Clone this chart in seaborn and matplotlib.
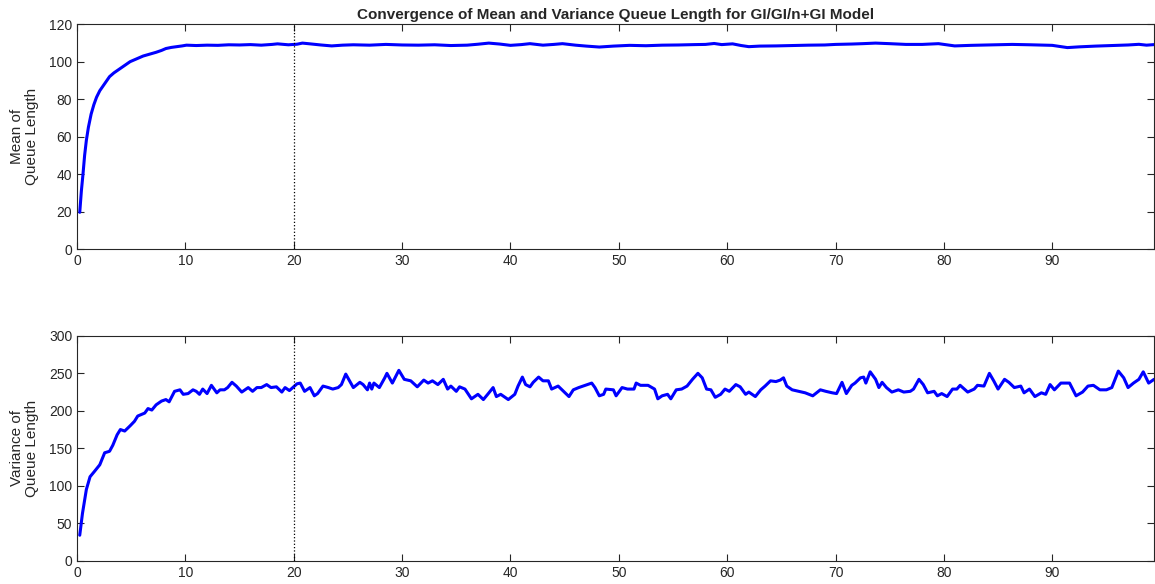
import matplotlib
matplotlib.use("Agg")
import matplotlib.pyplot as plt
import seaborn as sns

# mean of queue length over time
mean_t = [0.25, 0.4, 0.55, 0.7, 0.86, 1.05, 1.3, 1.55, 1.8, 2.1, 2.4, 2.7, 3.0, 3.4, 3.9,
          4.4, 4.9, 5.5, 6.1, 6.7, 7.3, 7.8, 8.2, 8.7, 9.2, 9.7, 10.1, 11, 12, 13, 14, 15,
          16, 17, 18, 18.5, 19.5, 20.3, 20.8, 21.5, 22.5, 23.5, 24.5, 25.5, 27, 28.5, 30,
          31.5, 33, 34.5, 36, 37, 38, 39, 40, 41, 41.8, 43, 44, 44.8, 46, 47, 48.2, 49.5,
          51, 52.5, 54, 55.5, 57, 58, 58.8, 59.5, 60.5, 61.3, 62, 63, 64.5, 66, 67.5, 69,
          70, 71.5, 72.5, 73.7, 75, 76.5, 78, 79.5, 81, 82.5, 84, 86.3, 88, 90, 91.4, 92.5,
          94, 95.5, 97, 98, 98.7, 99.4]
mean_v = [19.6, 31, 40, 50, 58, 65, 72, 77, 81, 84.5, 87, 89.5, 92, 94, 96,
          98, 100, 101.5, 103, 104, 105, 106, 107, 107.6, 108, 108.4, 108.8, 108.6, 108.8,
          108.7, 109, 108.9, 109.1, 108.8, 109.2, 109.5, 109, 109.3, 109.9, 109.5, 108.9,
          108.4, 108.8, 109, 108.8, 109.2, 108.9, 108.8, 109, 108.6, 108.8, 109.3, 109.9,
          109.4, 108.7, 109.1, 109.6, 108.8, 109.2, 109.6, 108.8, 108.3, 107.8, 108.3,
          108.7, 108.5, 108.8, 108.9, 109.1, 109.2, 109.7, 109.1, 109.5, 108.6, 108,
          108.3, 108.4, 108.6, 108.8, 108.9, 109.2, 109.4, 109.6, 109.9, 109.6, 109.2,
          109.2, 109.6, 108.4, 108.7, 108.9, 109.2, 109, 108.7, 107.5, 107.9, 108.3,
          108.6, 108.9, 109.25, 108.8, 109.1]

# variance of queue length over time
var_t = [0.25, 0.5, 0.86, 1.2, 1.6, 2.1, 2.55, 3.0, 3.3, 3.7, 4.0, 4.4, 4.9, 5.3, 5.6,
         6.25, 6.55, 6.9, 7.3, 7.8, 8.2, 8.5, 9.0, 9.5, 9.8, 10.25, 10.7, 11.0, 11.3,
         11.6, 12.0, 12.4, 12.9, 13.2, 13.6, 13.9, 14.3, 14.7, 15.2, 15.8, 16.2, 16.6,
         17.0, 17.5, 17.9, 18.4, 18.9, 19.2, 19.6, 20.3, 20.6, 21.0, 21.5, 21.9, 22.2,
         22.7, 23.2, 23.6, 24.1, 24.4, 24.8, 25.5, 26.1, 26.4, 26.8, 27.0, 27.2, 27.4,
         27.9, 28.4, 28.6, 29.1, 29.7, 30.2, 30.8, 31.4, 32.0, 32.4, 32.8, 33.3, 33.8,
         34.2, 34.5, 35.0, 35.3, 35.8, 36.4, 37.0, 37.5, 37.9, 38.4, 38.7, 39.1, 39.8,
         40.4, 40.7, 41.1, 41.4, 41.8, 42.1, 42.6, 43.0, 43.5, 43.8, 44.4, 44.9, 45.4,
         45.8, 46.3, 46.7, 47.5, 47.8, 48.2, 48.6, 48.8, 49.5, 49.75, 50.3, 50.8, 51.4,
         51.6, 52.0, 52.7, 53.3, 53.6, 54.0, 54.5, 54.8, 55.3, 55.8, 56.3, 56.8, 57.3,
         57.7, 58.1, 58.5, 58.9, 59.4, 59.8, 60.2, 60.8, 61.2, 61.7, 62.0, 62.6, 63.1,
         63.5, 64.0, 64.5, 64.9, 65.2, 65.5, 66.0, 66.6, 67.2, 67.9, 68.6, 69.1, 69.7,
         70.1, 70.6, 71.0, 71.5, 71.8, 72.3, 72.6, 72.8, 73.2, 73.7, 74.0, 74.3, 74.7,
         75.2, 75.8, 76.3, 76.9, 77.2, 77.7, 78.1, 78.5, 79.1, 79.4, 79.8, 80.3, 80.8,
         81.2, 81.5, 82.2, 82.8, 83.1, 83.7, 84.2, 84.6, 85.0, 85.6, 86.0, 86.5, 87.1,
         87.4, 87.9, 88.4, 89.0, 89.4, 89.8, 90.2, 90.8, 91.6, 92.2, 92.8, 93.3, 93.8,
         94.4, 95.0, 95.5, 96.1, 96.6, 97.0, 97.5, 98.0, 98.4, 98.9, 99.4]
var_v = [34, 63, 95, 112, 119, 128, 144, 146, 154, 168, 175, 173, 180, 186, 193,
         197, 203, 201, 208, 213, 215, 212, 226, 228, 222, 223, 228, 226, 222,
         229, 223, 234, 224, 228, 228, 231, 238, 233, 225, 231, 226, 231,
         231, 235, 231, 232, 225, 231, 227, 236, 237, 226, 231, 220, 223,
         233, 231, 229, 231, 235, 249, 231, 238, 235, 228, 237, 229, 237,
         231, 244, 250, 237, 254, 242, 240, 232, 241, 237, 240, 235, 242,
         229, 233, 226, 232, 229, 216, 222, 215, 222, 231, 219, 222, 215,
         222, 233, 245, 235, 232, 238, 245, 240, 240, 229, 233, 226, 219,
         228, 231, 233, 237, 231, 220, 222, 229, 228, 220, 231, 229, 229,
         237, 234, 234, 229, 216, 220, 222, 216, 228, 229, 233, 242, 250,
         244, 229, 228, 218, 222, 229, 226, 235, 232, 222, 225, 219, 228,
         233, 240, 239, 241, 244, 233, 228, 226, 224, 220, 228, 226, 224,
         223, 238, 223, 234, 237, 244, 245, 237, 252, 242, 231, 238, 231,
         225, 228, 225, 226, 229, 242, 235, 224, 226, 220, 223, 219, 229,
         229, 234, 225, 229, 234, 233, 250, 240, 229, 242, 238, 231, 233,
         224, 229, 219, 224, 222, 235, 228, 237, 237, 220, 225, 233, 234,
         228, 228, 231, 253, 244, 231, 237, 242, 252, 237, 242]

x_ticks = [0, 10, 20, 30, 40, 50, 60, 70, 80, 90]
mean_ticks = [0, 20, 40, 60, 80, 100, 120]
var_ticks = [0, 50, 100, 150, 200, 250, 300]
marker_t = 20

sns.set_style("ticks")
plt.rcParams["font.family"] = ["Liberation Sans", "DejaVu Sans"]
plt.rcParams["axes.edgecolor"] = "#262626"
plt.rcParams["xtick.color"] = "#262626"
plt.rcParams["ytick.color"] = "#262626"

fig = plt.figure(figsize=(11.55, 5.84), dpi=100)
ax1 = fig.add_axes([0.0667, 0.5736, 0.9325, 0.385])
ax2 = fig.add_axes([0.0667, 0.0399, 0.9325, 0.385])

panels = [
    (ax1, mean_t, mean_v, mean_ticks, "Mean of\nQueue Length"),
    (ax2, var_t, var_v, var_ticks, "Variance of\nQueue Length"),
]
for ax, t, v, yt, lab in panels:
    sns.lineplot(x=t, y=v, ax=ax, color="#0000ff", linewidth=2.2)
    ax.axvline(marker_t, color="black", linestyle=":", linewidth=0.9)
    ax.set_xlim(0, 99.4)
    ax.set_ylim(yt[0], yt[-1])
    ax.set_xticks(x_ticks)
    ax.set_yticks(yt)
    ax.tick_params(direction="in", top=True, right=True, length=5, width=0.8,
                   labelsize=10, labelcolor="#262626")
    for s in ax.spines.values():
        s.set_visible(True)
        s.set_linewidth(0.8)
        s.set_color("#262626")
    ax.set_ylabel(lab, fontsize=11, color="#262626", linespacing=1.1)
    ax.yaxis.set_label_coords(-0.035, 0.5)

ax1.set_title("Convergence of Mean and Variance Queue Length for GI/GI/n+GI Model",
              fontsize=11, fontweight="bold", pad=4)

fig.savefig("out.png", dpi=100)
